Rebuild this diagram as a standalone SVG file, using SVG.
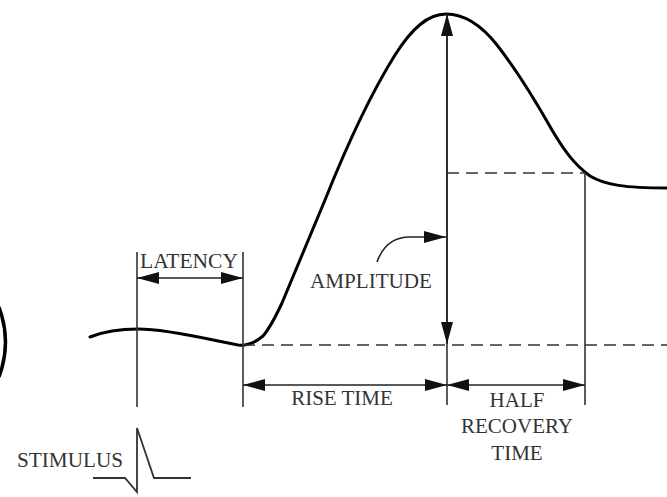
<svg xmlns="http://www.w3.org/2000/svg" width="667" height="497" viewBox="0 0 667 497">
<defs>
<marker id="ah" markerUnits="userSpaceOnUse" markerWidth="22" markerHeight="12" refX="22" refY="6" orient="auto-start-reverse" viewBox="0 0 22 12">
<path d="M0,0 L22,6 L0,12 z" fill="#111"/>
</marker>
<style>
.wave{fill:none;stroke:#000;stroke-width:3;stroke-linecap:round;stroke-linejoin:round}
.ln{fill:none;stroke:#333;stroke-width:1.6}
.dash{fill:none;stroke:#333;stroke-width:1.6;stroke-dasharray:12 7}
.arr{fill:none;stroke:#222;stroke-width:1.6}
.lbl{font-family:"Liberation Serif","Times New Roman",serif;font-size:21px;fill:#333}
</style>
</defs>
<rect width="667" height="497" fill="#fff"/>
<g id="edge-mark">
<path d="M-1,307 Q12,342 -1,377" fill="none" stroke="#000" stroke-width="3.5"/>
</g>
<g id="waveform">
<path class="wave" d="M90,337 C105,331 120,329 138,329 C170,329 215,341 238,345 C248,346 256,342 263,336 C270,328 275,318 282,303 L325,200 C345,150 370,95 395,55 C412,28 428,14 446,14 C465,14 482,26 497,45 C515,68 535,100 552,130 C565,152 575,165 590,176 C605,185 625,188 667,188"/>
</g>
<g id="guides">
<line class="ln" x1="137" y1="252" x2="137" y2="407"/>
<line class="ln" x1="243" y1="252" x2="243" y2="407"/>
<line class="ln" x1="447" y1="36" x2="447" y2="405"/>
<line class="ln" x1="585" y1="173" x2="585" y2="405"/>
<line class="dash" x1="243" y1="345" x2="667" y2="345"/>
<line class="dash" x1="447" y1="173" x2="585" y2="173"/>
</g>
<g id="connectors">
<line class="arr" x1="137" y1="278" x2="243" y2="278" marker-start="url(#ah)" marker-end="url(#ah)"/>
<line class="arr" x1="243" y1="385" x2="447" y2="385" marker-start="url(#ah)" marker-end="url(#ah)"/>
<line class="arr" x1="447" y1="385" x2="585" y2="385" marker-start="url(#ah)" marker-end="url(#ah)"/>
<line class="arr" x1="447" y1="14" x2="447" y2="344" marker-start="url(#ah)" marker-end="url(#ah)"/>
<path class="arr" d="M377,262 C382,248 392,237 410,237 L446,237" marker-end="url(#ah)"/>
</g>
<g id="stimulus">
<path d="M93,478 L125,478 L137,492 L137,428 L154,478 L191,478" fill="none" stroke="#333" stroke-width="1.8" stroke-linejoin="miter"/>
</g>
<g id="labels">
<text class="lbl" x="140" y="268" textLength="98" lengthAdjust="spacingAndGlyphs">LATENCY</text>
<text class="lbl" x="310" y="288" textLength="122" lengthAdjust="spacingAndGlyphs">AMPLITUDE</text>
<text class="lbl" x="342" y="405" text-anchor="middle">RISE TIME</text>
<text class="lbl" x="517" y="407" text-anchor="middle">HALF</text>
<text class="lbl" x="517" y="433" text-anchor="middle">RECOVERY</text>
<text class="lbl" x="517" y="460" text-anchor="middle">TIME</text>
<text class="lbl" x="17" y="467" textLength="106" lengthAdjust="spacingAndGlyphs">STIMULUS</text>
</g>
</svg>
